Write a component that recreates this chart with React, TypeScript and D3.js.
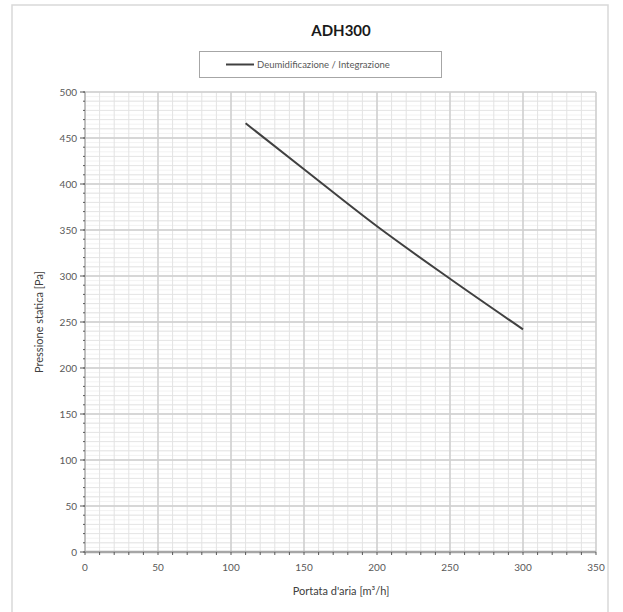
import React from "react";
import * as d3 from "d3";

const title = "ADH300";
const seriesName = "Deumidificazione / Integrazione";
const flowValues = [110, 150, 200, 250, 300];
const pressureValues = [466, 416, 354, 297, 242];
const xTicks = [0, 50, 100, 150, 200, 250, 300, 350];
const yTicks = [0, 50, 100, 150, 200, 250, 300, 350, 400, 450, 500];
const xLabel = "Portata d'aria [m³/h]";
const yLabel = "Pressione statica [Pa]";

const W = 623, H = 612;
const left = 85, right = 596, top = 92, bottom = 552;
const FONT = "Lato, 'Open Sans', sans-serif";

export default function App() {
  const x = d3.scaleLinear().domain([0, 350]).range([left, right]);
  const y = d3.scaleLinear().domain([0, 500]).range([bottom, top]);
  const data = flowValues.map((v, i) => [v, pressureValues[i]] as [number, number]);
  const line = d3.line<[number, number]>().x(d => x(d[0])).y(d => y(d[1])).curve(d3.curveMonotoneX);

  const xMinor = d3.range(0, 351, 10);
  const yMinor5 = d3.range(0, 501, 5);
  const yMinor10 = d3.range(0, 501, 10);

  return (
    <svg width={W} height={H} style={{ position: "absolute", left: 0, top: 0, background: "#fff" }}>
      <rect x={12} y={5} width={596} height={610} fill="#fff" stroke="#d9d9d9" strokeWidth={1.5} />
      <text x={341} y={36} textAnchor="middle" fontFamily={FONT} fontWeight="bold" fontSize={15} fill="#1a1a1a">{title}</text>
      <rect x={199.5} y={51.5} width={242} height={26} fill="#fff" stroke="#a6a6a6" strokeWidth={1} />
      <line x1={226} x2={254} y1={64.5} y2={64.5} stroke="#404040" strokeWidth={2} />
      <text x={257} y={68} fontFamily={FONT} fontSize={9.5} fill="#595959">{seriesName}</text>

      {yMinor5.map(v => (
        <line key={"y5" + v} x1={left} x2={right} y1={y(v)} y2={y(v)} stroke="#f2f2f2" strokeWidth={1} />
      ))}
      {yMinor10.map(v => (
        <line key={"y10" + v} x1={left} x2={right} y1={y(v)} y2={y(v)} stroke="#e6e6e6" strokeWidth={1} />
      ))}
      {xMinor.map(v => (
        <line key={"x10" + v} x1={x(v)} x2={x(v)} y1={top} y2={bottom} stroke="#e3e3e3" strokeWidth={1} />
      ))}
      {yTicks.map(v => (
        <line key={"ym" + v} x1={left} x2={right} y1={y(v)} y2={y(v)} stroke="#cfcfcf" strokeWidth={1.5} />
      ))}
      {xTicks.map(v => (
        <line key={"xm" + v} x1={x(v)} x2={x(v)} y1={top} y2={bottom} stroke="#cfcfcf" strokeWidth={1.5} />
      ))}

      {/* y axis */}
      <line x1={left} x2={left} y1={top} y2={bottom} stroke="#a6a6a6" strokeWidth={1} />
      {yMinor10.map(v => (
        <line key={"yt" + v} x1={left - 2} x2={left} y1={y(v)} y2={y(v)} stroke="#595959" strokeWidth={1} />
      ))}
      {yTicks.map(v => (
        <g key={"yl" + v}>
          <line x1={left - 5} x2={left} y1={y(v)} y2={y(v)} stroke="#595959" strokeWidth={1} />
          <text x={left - 8} y={y(v) + 3.5} textAnchor="end" fontFamily={FONT} fontSize={10} fill="#595959">{v}</text>
        </g>
      ))}
      {/* x axis */}
      <line x1={left} x2={right} y1={bottom} y2={bottom} stroke="#a6a6a6" strokeWidth={2.5} />
      {xMinor.map(v => (
        <line key={"xt" + v} x1={x(v)} x2={x(v)} y1={bottom} y2={bottom + 3} stroke="#595959" strokeWidth={1} />
      ))}
      {xTicks.map(v => (
        <text key={"xl" + v} x={x(v)} y={bottom + 19} textAnchor="middle" fontFamily={FONT} fontSize={10} fill="#595959">{v}</text>
      ))}

      <path d={line(data) || ""} fill="none" stroke="#404040" strokeWidth={2} />

      <text x={341} y={595} textAnchor="middle" fontFamily={FONT} fontSize={11} fill="#404040">{xLabel}</text>
      <text transform={`translate(43, ${(top + bottom) / 2}) rotate(-90)`} textAnchor="middle" fontFamily={FONT} fontSize={11} fill="#404040">{yLabel}</text>
    </svg>
  );
}
